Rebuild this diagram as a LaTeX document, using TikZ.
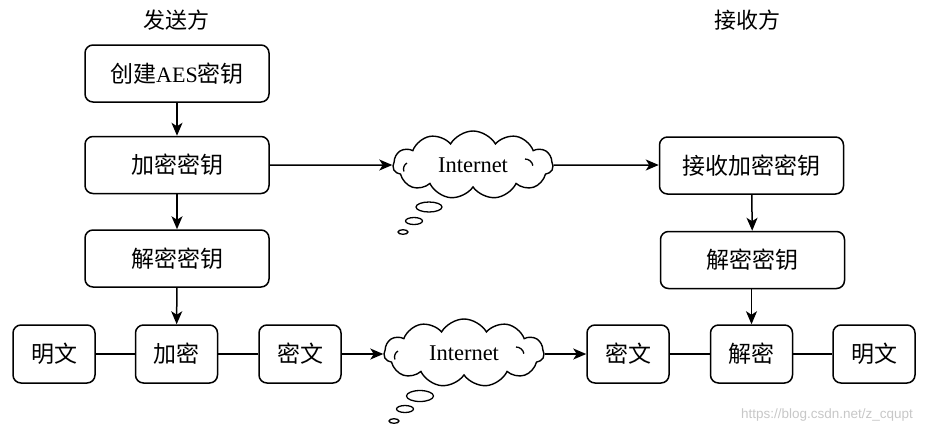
\documentclass[tikz,border=0pt]{standalone}
\usepackage{fontspec}
\setmainfont{Liberation Serif}
\newfontfamily\cjk{Noto Sans CJK SC}
\newfontfamily\wmfont{Liberation Sans}
\usetikzlibrary{shapes.symbols,arrows.meta}
\begin{document}
\begin{tikzpicture}[x=1pt,y=-1pt,
  box/.style={draw,line width=1.5pt,rounded corners=8pt,minimum width=184pt,minimum height=57pt,inner sep=0pt,font=\cjk\fontsize{23}{26}\selectfont},
  sbox/.style={box,minimum width=82pt,minimum height=58pt},
  net/.style={cloud,draw,line width=1.4pt,cloud puffs=11,cloud puff arc=120,aspect=2.4,minimum width=160pt,minimum height=68pt,inner sep=0pt,font=\fontsize{22.5}{26}\selectfont},
  link/.style={line width=1.5pt},
  arr/.style={link,-{Stealth[length=13pt,width=11pt,inset=3.5pt]}},
  title/.style={font=\cjk\fontsize{22}{26}\selectfont},
  bubble/.style={draw,line width=1.3pt},
  curl/.style={draw,line width=1.3pt}
]
\useasboundingbox (0,0) rectangle (937,432);

\node[title] (ts) at (176,20) {发送方};
\node[title] (tr) at (747,20) {接收方};

\node[box] (b1) at (177,73.5) {创建{\rmfamily\fontsize{22}{26}\selectfont AES}密钥};
\node[box] (b2) at (177,165) {加密密钥};
\node[box] (b3) at (177,258.5) {解密密钥};

\node[box] (r1) at (751.5,165.5) {接收加密密钥};
\node[box] (r2) at (752.5,260) {解密密钥};

\node[sbox] (ml) at (54,354) {明文};
\node[sbox] (enc) at (176.5,354) {加密};
\node[sbox] (cl) at (300,354) {密文};
\node[sbox] (cr) at (628,354) {密文};
\node[sbox] (dec) at (751.5,354) {解密};
\node[sbox] (mr) at (874,354) {明文};

\node[net] (c1) at (473,165) {Internet};
\node[net] (c2) at (464,353) {Internet};

% thought bubbles
\draw[bubble] (429,207) ellipse [x radius=13, y radius=5];
\draw[bubble] (414,221) ellipse [x radius=8.5, y radius=3.5];
\draw[bubble] (403,232) ellipse [x radius=5, y radius=2.3];
\draw[bubble] (420,396) ellipse [x radius=13.5, y radius=5.5];
\draw[bubble] (405,409) ellipse [x radius=8.5, y radius=3.5];
\draw[bubble] (394,421) ellipse [x radius=5, y radius=2.3];

% inner curls of clouds
\draw[curl] ([shift={(-66,-2)}]c1.center) arc[start angle=-120,end angle=-200,radius=7];
\draw[curl] ([shift={(52,-6)}]c1.center) arc[start angle=-90,end angle=-10,radius=8];
\draw[curl] ([shift={(-66,-2)}]c2.center) arc[start angle=-120,end angle=-200,radius=7];
\draw[curl] ([shift={(52,-6)}]c2.center) arc[start angle=-90,end angle=-10,radius=8];

% vertical arrows
\draw[arr] (b1) -- (b2);
\draw[arr] (b2) -- (b3);
\draw[arr] (b3) -- (enc);
\draw[arr] (r1) -- (r2);
\draw[arr] (r2.south -| dec.north) -- (dec);

% horizontal arrows
\draw[arr] (b2) -- (c1);
\draw[arr] (c1) -- (r1.west |- c1);
\draw[arr] (cl.east) -- (c2.west |- cl.east);
\draw[arr] (c2.east |- cr.west) -- (cr);

% plain links
\draw[link] (ml) -- (enc);
\draw[link] (enc) -- (cl);
\draw[link] (cr) -- (dec);
\draw[link] (dec) -- (mr);

\node[font=\wmfont\fontsize{13.5}{16}\selectfont,text=black!22] (wm) at (827,415) {https://blog.csdn.net/z\_cqupt};
\end{tikzpicture}
\end{document}
